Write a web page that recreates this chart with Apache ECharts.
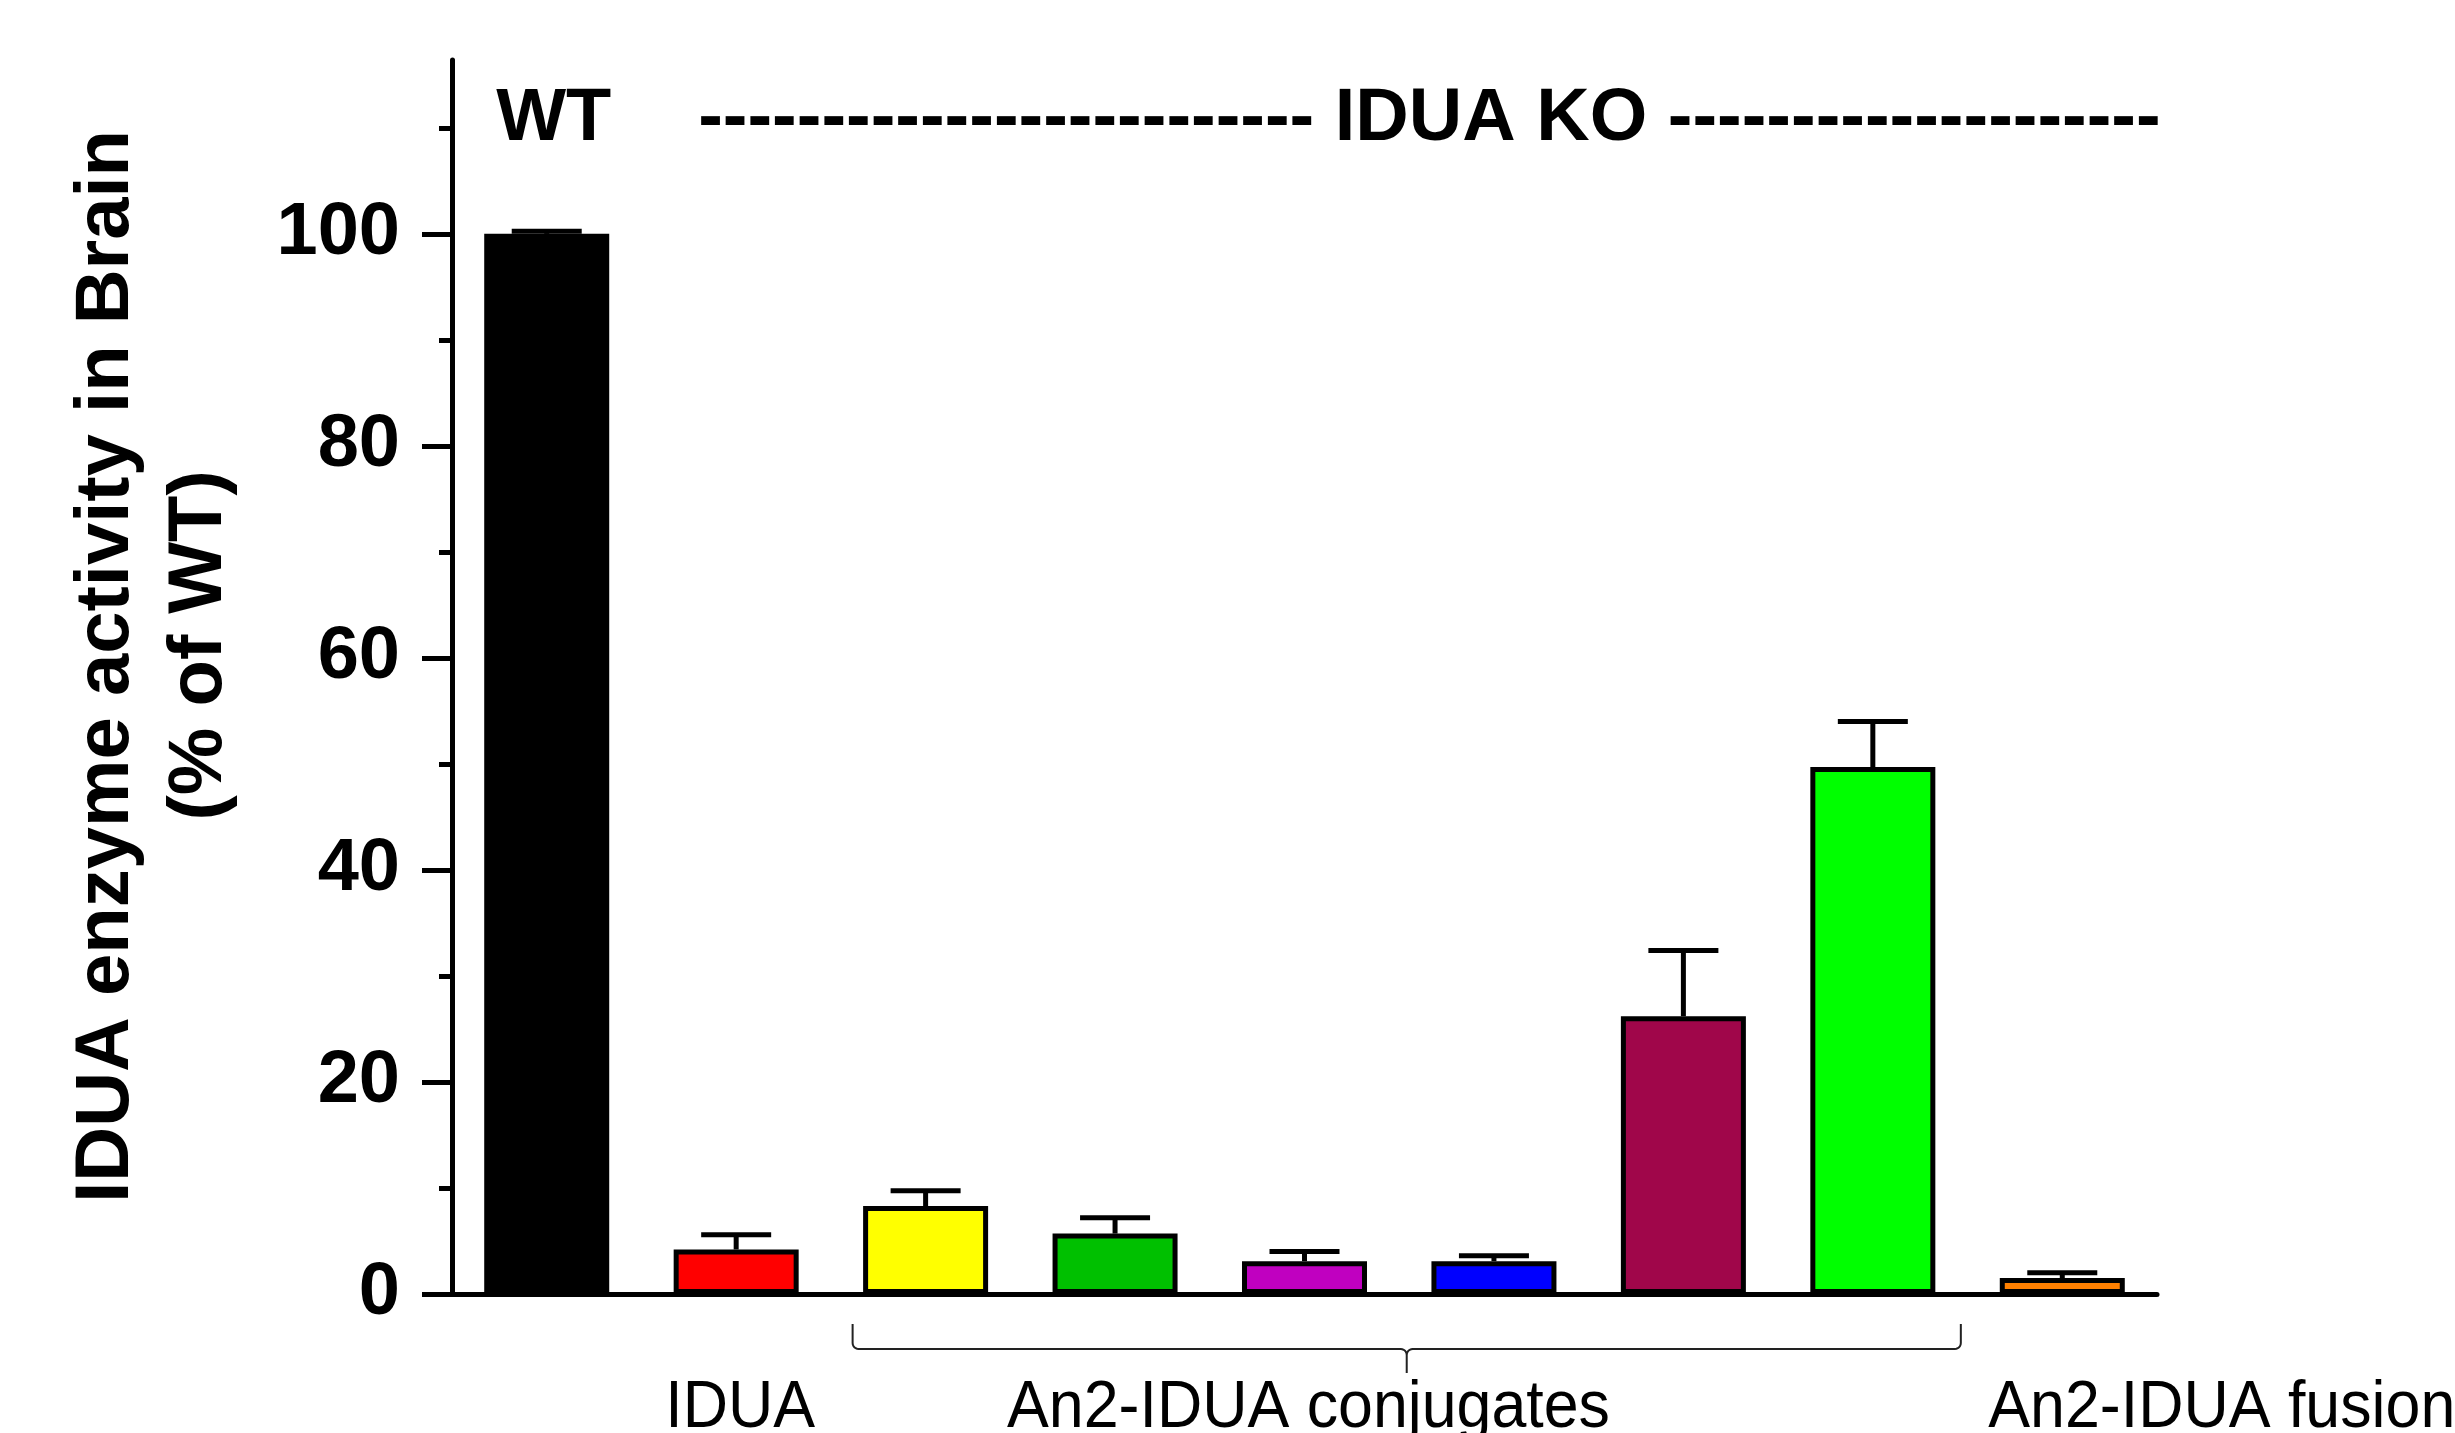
<!DOCTYPE html>
<html>
<head>
<meta charset="utf-8">
<script src="https://cdn.jsdelivr.net/npm/echarts@6/dist/echarts.min.js"></script>
<style>
html,body{margin:0;padding:0;background:#fff;}
#chart{width:2455px;height:1433px;}
</style>
</head>
<body>
<div id="chart"></div>
<script>
const categories = ['WT','IDUA','Conjugate 1','Conjugate 2','Conjugate 3','Conjugate 4','Conjugate 5','Conjugate 6','An2-IDUA fusion'];
const values = [100, 4.2, 8.3, 5.7, 3.1, 3.1, 26.2, 49.7, 1.5];
const errors = [0.25, 1.4, 1.45, 1.5, 0.9, 0.5, 6.2, 4.3, 0.5];
const colors = ['#000000','#FF0000','#FFFF00','#00C000','#C000C0','#0000FF','#A0064A','#00FF00','#FF8000'];
const majorTicks = [0, 20, 40, 60, 80, 100];
const minorTicks = [10, 30, 50, 70, 90, 110];
const yTitle = 'IDUA enzyme activity in Brain';
const yUnit = '(% of WT)';
const groupLabels = ['IDUA', 'An2-IDUA conjugates', 'An2-IDUA fusion'];
const headerLeft = 'WT';
const headerRight = '------------------------- IDUA KO --------------------';

const FONT = '"Liberation Sans", Arial, Helvetica, sans-serif';
const chart = echarts.init(document.getElementById('chart'), null, {renderer: 'canvas'});

const option = {
  backgroundColor: '#ffffff',
  animation: false,
  grid: {left: 452, right: 298, top: 60, bottom: 139, containLabel: false},
  xAxis: {
    type: 'category',
    data: categories,
    boundaryGap: true,
    axisLine: {show: true, lineStyle: {color: '#000', width: 5}},
    axisTick: {show: false},
    axisLabel: {show: false},
    splitLine: {show: false}
  },
  yAxis: [
    {
      type: 'value', min: 0, max: 116.4, position: 'left',
      axisLine: {show: true, lineStyle: {color: '#000', width: 5}},
      axisTick: {show: true, length: 30, lineStyle: {color: '#000', width: 5}, customValues: majorTicks},
      axisLabel: {show: true, customValues: majorTicks, margin: 52, fontSize: 74, fontWeight: 'bold', color: '#000', fontFamily: FONT},
      splitLine: {show: false},
      name: ' ' + yTitle + '\n   ' + yUnit,
      nameLocation: 'middle',
      nameRotate: 90,
      nameGap: 205,
      nameTextStyle: {fontSize: 76, fontWeight: 'bold', color: '#000', fontFamily: FONT, lineHeight: 93}
    },
    {
      type: 'value', min: 0, max: 116.4, position: 'left',
      axisLine: {show: false},
      axisTick: {show: true, length: 13, lineStyle: {color: '#000', width: 5}, customValues: minorTicks},
      axisLabel: {show: false},
      splitLine: {show: false}
    }
  ],
  series: [
    {
      type: 'bar',
      yAxisIndex: 0,
      barWidth: 125,
      data: values.map((v, i) => ({value: v, itemStyle: {color: colors[i]}})),
      itemStyle: {borderColor: '#000', borderWidth: 5},
      z: 2
    },
    {
      type: 'custom',
      yAxisIndex: 0,
      z: 3,
      data: values.map((v, i) => [i, v, errors[i]]),
      renderItem: function (params, api) {
        const base = api.coord([api.value(0), api.value(1)]);
        const top = api.coord([api.value(0), api.value(1) + api.value(2)]);
        const half = 35;
        return {
          type: 'group',
          children: [
            {type: 'line', shape: {x1: base[0], y1: base[1], x2: base[0], y2: top[1]}, style: {stroke: '#000', lineWidth: 5}},
            {type: 'line', shape: {x1: base[0] - half, y1: top[1], x2: base[0] + half, y2: top[1]}, style: {stroke: '#000', lineWidth: 5}}
          ]
        };
      }
    }
  ]
};
chart.setOption(option);

function px(i) { return chart.convertToPixel({xAxisIndex: 0}, i); }
function py(v) { return chart.convertToPixel({yAxisIndex: 0}, v); }

const y0 = py(0);
const headerY = py(111.1) + 3;
const labelY = y0 + 115;

// brace under conjugate bars
const L = px(2) - 73, R = px(7) + 88, M = (L + R) / 2;
const yTop = y0 + 30, yH = y0 + 55, yDip = y0 + 79, r = 6;
function arc(cx, cy, rad, a0, a1, n) {
  const pts = [];
  for (let k = 0; k <= n; k++) {
    const a = (a0 + (a1 - a0) * k / n) * Math.PI / 180;
    pts.push([cx + rad * Math.cos(a), cy + rad * Math.sin(a)]);
  }
  return pts;
}
let bracePts = [[L, yTop]];
bracePts = bracePts.concat(arc(L + r, yH - r, r, 180, 90, 6));
bracePts = bracePts.concat(arc(M - r, yH + r, r, -90, 0, 6));
bracePts.push([M, yDip]);
bracePts.push([M, yH + r]);
bracePts = bracePts.concat(arc(M + r, yH + r, r, 180, 270, 6));
bracePts = bracePts.concat(arc(R - r, yH - r, r, 90, 0, 6));
bracePts.push([R, yTop]);

const labelStyle = {x: 0, y: 0, verticalAlign: 'middle', fontSize: 66, fontFamily: FONT, fill: '#000'};
chart.setOption({
  graphic: [
    {type: 'text', x: px(0) + 7, y: headerY, style: {text: headerLeft, x: 0, y: 0, align: 'center', verticalAlign: 'middle', fontSize: 74, fontWeight: 'bold', fontFamily: FONT, fill: '#000'}},
    {type: 'text', x: px(1) - 38, y: headerY, style: {text: headerRight, x: 0, y: 0, align: 'left', verticalAlign: 'middle', fontSize: 74, fontWeight: 'bold', fontFamily: FONT, fill: '#000'}},
    {type: 'polyline', shape: {points: bracePts}, style: {stroke: '#222', lineWidth: 2, fill: null}},
    {type: 'text', x: px(1) + 4, y: labelY, scaleX: 0.95, style: Object.assign({text: groupLabels[0], align: 'center'}, labelStyle)},
    {type: 'text', x: px(4) + 4, y: labelY, scaleX: 0.95, style: Object.assign({text: groupLabels[1], align: 'center'}, labelStyle)},
    {type: 'text', x: px(8) - 74, y: labelY, scaleX: 0.95, style: Object.assign({text: groupLabels[2], align: 'left'}, labelStyle)}
  ]
});
</script>
</body>
</html>
